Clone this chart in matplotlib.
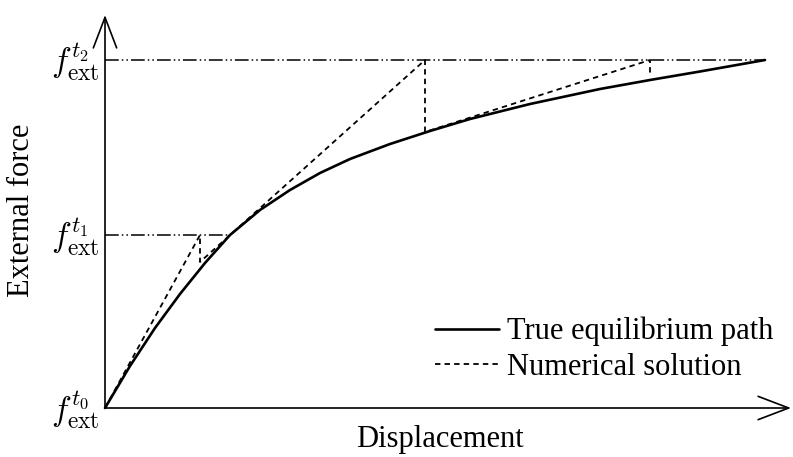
import numpy as np
import matplotlib
matplotlib.use("Agg")
import matplotlib.pyplot as plt

plt.rcParams['font.family'] = ['Liberation Serif', 'DejaVu Serif']
plt.rcParams['mathtext.fontset'] = 'cm'

# true equilibrium path (displacement, force)
path_u = [0, 25, 50, 75, 100, 125, 155, 185, 215, 245, 285, 325, 365, 425, 495, 545, 595, 660]
path_f = [0, 42, 80, 114, 145, 173, 198, 218, 235, 249, 264, 277, 289, 304, 319, 328, 336.5, 348]

# load levels
f_levels = [0, 173, 348]
f_labels = [r'$f^{t_0}_{\mathrm{ext}}$', r'$f^{t_1}_{\mathrm{ext}}$', r'$f^{t_2}_{\mathrm{ext}}$']

# numerical solution: predictor then corrector for each step
num_u = [0, 95, 95, 320, 320, 545, 545]
num_f = [0, 173, 146, 348, 276, 348, 333]

fig = plt.figure(figsize=(7.93, 4.57), dpi=100)
ax = fig.add_axes([0, 0, 1, 1])
ax.set_xlim(-105, 688)
ax.set_ylim(-49, 408)
ax.axis('off')

# reference levels
ddot = (0, (9, 2, 1, 2, 1, 2))
ax.plot([0, 125], [f_levels[1], f_levels[1]], color='black', lw=1.1, ls=ddot)
ax.plot([0, path_u[-1]], [f_levels[2], f_levels[2]], color='black', lw=1.1, ls=ddot)

ax.plot(path_u, path_f, color='black', lw=1.9, solid_joinstyle='round',
        solid_capstyle='round', label='True equilibrium path')
ax.plot(num_u, num_f, color='black', lw=1.3, ls=(0, (3, 2.3)),
        label='Numerical solution')

# axes with open arrow heads
arrow = dict(arrowstyle='->,head_length=1.1,head_width=0.42', lw=1.2,
             color='black', shrinkA=0, shrinkB=0, mutation_scale=20)
ax.annotate('', xy=(0, 393), xytext=(0, 0), arrowprops=arrow)
ax.annotate('', xy=(686, 0), xytext=(0, 0), arrowprops=arrow)

for f, lab in zip(f_levels, f_labels):
    ax.text(-5, f - 2, lab, ha='right', va='center', fontsize=24)

ax.text(335, -32, 'Displacement', ha='center', va='center', fontsize=22)
ax.text(-83, 198, 'External force', ha='center', va='center', fontsize=22,
        rotation=90)

ax.legend(loc='lower right', bbox_to_anchor=(0.975, 0.165), frameon=False,
          fontsize=22, handlelength=2.1, handletextpad=0.25,
          labelspacing=0.2, borderpad=0, borderaxespad=0)

fig.savefig('out.png', dpi=100)
